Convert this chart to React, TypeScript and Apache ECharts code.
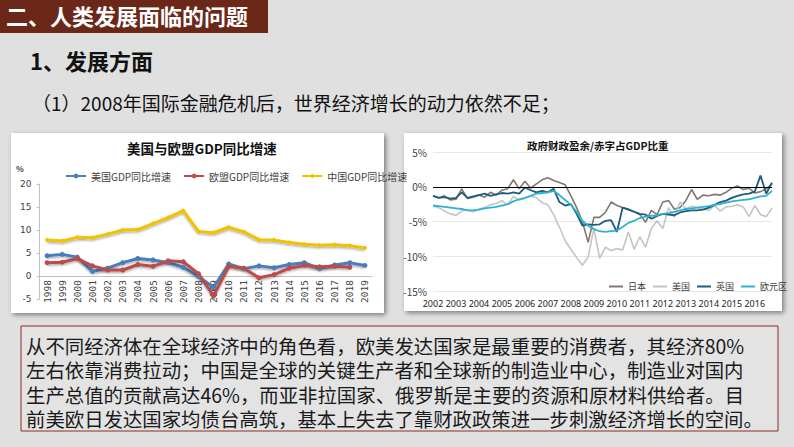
import React, { useEffect, useRef } from "react";
import * as echarts from "echarts";

// ---------- Left chart: 美国与欧盟GDP同比增速 ----------
const gdpYears = ["1998","1999","2000","2001","2002","2003","2004","2005","2006","2007","2008","2009","2010","2011","2012","2013","2014","2015","2016","2017","2018","2019"];
const usGdp = [4.4, 4.7, 4.1, 1.0, 1.7, 2.9, 3.8, 3.5, 2.9, 1.9, -0.1, -2.5, 2.6, 1.6, 2.2, 1.8, 2.5, 2.9, 1.6, 2.4, 2.9, 2.3];
const euGdp: (number | string)[] = [2.9, 3.0, 3.8, 2.2, 1.3, 1.3, 2.5, 2.1, 3.3, 3.1, 0.5, -4.3, 2.1, 1.7, -0.4, 0.3, 1.7, 2.3, 2.0, 2.1, 1.9, "-"];
const cnGdp = [7.8, 7.6, 8.4, 8.3, 9.1, 10.0, 10.1, 11.4, 12.7, 14.2, 9.7, 9.4, 10.6, 9.6, 7.9, 7.8, 7.3, 6.9, 6.7, 6.8, 6.6, 6.1];
const gdpTicks = [-5, 0, 5, 10, 15, 20];

// ---------- Right chart: 政府财政盈余/赤字占GDP比重 (quarterly, from 2002Q1) ----------
const fiscalStartYear = 2002;
const fiscalYearTicks = ["2002","2003","2004","2005","2006","2007","2008","2009","2010","2011","2012","2013","2014","2015","2016"];
const japanBal = [
  -1.3, -1.6, -1.3, -1.9,
  -1.8, -0.3, -1.7, -1.5,
  -1.2, -1.5, -0.8, -1.2,
  -0.5, -0.3, 1.0, -0.3,
  0.8, -0.2, 0.4, 1.0,
  1.3, 0.9, 0.6, 0.3,
  -1.3, -3.0, -5.0, -8.0,
  -4.4, -4.4, -3.7, -2.2,
  -2.7, -3.0, -3.2, -3.6,
  -4.0, -5.1, -3.4, -4.0,
  -2.2, -2.0, -3.2, -3.0,
  -2.0, -0.4, -1.8, -1.2,
  -1.3, -1.1, -1.2, -0.8,
  -0.2, 0.1, -0.4, -0.2,
  -0.9, -0.7, -0.3, 0.4,
];
const usBal = [
  -2.8, -3.0, -3.5, -3.9,
  -4.1, -3.5, -3.3, -3.6,
  -3.2, -3.0, -2.6, -2.4,
  -2.0, -2.6, -1.4, -1.9,
  -1.7, -1.3, -1.6, -2.3,
  -2.6, -4.0, -5.8, -7.8,
  -9.0, -10.2, -11.3, -10.1,
  -6.0, -10.3, -8.7, -9.2,
  -8.9, -9.1, -6.5, -9.0,
  -7.2, -8.7, -6.0, -4.9,
  -6.0, -3.0, -4.4, -2.2,
  -3.2, -2.8, -3.0, -3.2,
  -3.4, -2.7, -3.5, -2.9,
  -2.8, -2.6, -2.9, -4.3,
  -2.7, -4.0, -4.3, -3.1,
];
const ukBal = [
  -1.3, -1.6, -1.5, -1.7,
  -1.6, -0.8, -1.6, -1.4,
  -1.2, -1.0, -1.3, -1.1,
  -0.9, -1.0, -0.8, -1.0,
  -0.1, -0.5, -0.8, -0.6,
  -0.8, -0.3, -2.2, -2.7,
  -2.5, -3.9, -5.6, -5.4,
  -5.5, -5.4, -4.9, -4.8,
  -6.5, -3.0, -3.3, -3.6,
  -3.9, -4.0, -4.6, -4.2,
  -3.9, -4.0, -4.1, -3.7,
  -3.5, -3.4, -3.4, -3.3,
  -3.0, -2.6, -2.2, -2.0,
  -1.6, -1.3, -1.1, -1.0,
  -0.7, 1.6, -1.0, 0.6,
];
const euroBal = [
  -2.7, -2.8, -2.9, -3.0,
  -3.1, -3.2, -3.4, -3.4,
  -3.3, -3.1, -3.0, -2.9,
  -2.7, -2.5, -2.1, -1.8,
  -1.6, -1.3, -1.0, -0.9,
  -0.8, -0.6, -1.2, -1.9,
  -2.6, -3.6, -4.9, -5.6,
  -6.1, -6.4, -6.5, -6.4,
  -6.3, -5.8, -5.2, -4.9,
  -4.5, -4.3, -4.2, -4.1,
  -3.9, -3.8, -3.6, -3.4,
  -3.2, -3.1, -3.0, -2.9,
  -2.8, -2.6, -2.5, -2.3,
  -2.1, -2.0, -1.9, -1.8,
  -1.6, -1.4, -1.3, -0.6,
];
const fiscalTicks = [-15, -10, -5, 0, 5];

// ---------- Slide texts ----------
const headerText = "二、人类发展面临的问题";
const subTitle = "1、发展方面";
const pointText = "（1）2008年国际金融危机后，世界经济增长的动力依然不足；";
const bodyLines = [
  "从不同经济体在全球经济中的角色看，欧美发达国家是最重要的消费者，其经济80%",
  "左右依靠消费拉动；中国是全球的关键生产者和全球新的制造业中心，制造业对国内",
  "生产总值的贡献高达46%，而亚非拉国家、俄罗斯是主要的资源和原材料供给者。目",
  "前美欧日发达国家均债台高筑，基本上失去了靠财政政策进一步刺激经济增长的空间。",
];

const CJK = "'Noto Sans CJK SC', 'Noto Sans', sans-serif";

export default function App() {
  const ref = useRef<HTMLDivElement>(null);
  useEffect(() => {
    if (!ref.current) return;
    const chart = echarts.init(ref.current, undefined, { renderer: "svg" });
    const toXY = (arr: number[]) => arr.map((v, i) => [fiscalStartYear + i / 4, v]);
    const gdpLine = (name: string, data: any[], color: string, symbol: string) => ({
      name,
      type: "line",
      xAxisIndex: 0,
      yAxisIndex: 0,
      data,
      symbol,
      symbolSize: 5,
      itemStyle: { color },
      lineStyle: { color, width: 3, shadowColor: "rgba(0,0,0,0.35)", shadowBlur: 2, shadowOffsetY: 1.5 },
      z: 3,
    });
    const fiscalLine = (name: string, data: number[], color: string, width: number) => ({
      name,
      type: "line",
      xAxisIndex: 1,
      yAxisIndex: 1,
      data: toXY(data),
      showSymbol: false,
      symbol: "none",
      itemStyle: { color },
      lineStyle: { color, width },
      z: 3,
    });
    const bodyGraphics = bodyLines.map((t, i) => ({
      type: "text",
      left: 26,
      top: 334 + i * 24.5,
      z: 5,
      style: { text: t, fill: "#1a1a1a", font: `19.4px ${CJK}`, lineHeight: 22 },
    }));
    chart.setOption({
      animation: false,
      backgroundColor: "#e0e0e0",
      graphic: [
        { type: "rect", shape: { x: 0, y: 0, width: 268, height: 33 }, style: { fill: "#6b2717" }, z: -5 },
        { type: "text", left: 6, top: 4, style: { text: headerText, fill: "#ffffff", font: `bold 22px ${CJK}` }, z: 5 },
        { type: "text", left: 30, top: 49, style: { text: subTitle, fill: "#111111", font: `bold 22px ${CJK}` }, z: 5 },
        { type: "text", left: 32, top: 93, style: { text: pointText, fill: "#111111", font: `19px ${CJK}` }, z: 5 },
        // chart cards
        { type: "rect", shape: { x: 11, y: 133, width: 373, height: 180 }, style: { fill: "#ffffff", shadowColor: "rgba(0,0,0,0.45)", shadowBlur: 5, shadowOffsetX: 2, shadowOffsetY: 2 }, z: -5 },
        { type: "rect", shape: { x: 404, y: 133, width: 378, height: 178 }, style: { fill: "#ffffff", shadowColor: "rgba(0,0,0,0.45)", shadowBlur: 5, shadowOffsetX: 2, shadowOffsetY: 2 }, z: -5 },
        // chart titles
        { type: "text", left: 127, top: 141, style: { text: "美国与欧盟GDP同比增速", fill: "#111111", font: `bold 13.5px ${CJK}` }, z: 5 },
        { type: "text", left: 16, top: 164, style: { text: "%", fill: "#404040", font: `bold 8px ${CJK}` }, z: 5 },
        { type: "text", left: 527, top: 140, style: { text: "政府财政盈余/赤字占GDP比重", fill: "#111111", font: `bold 10.5px ${CJK}` }, z: 5 },
        // bottom text box
        { type: "rect", shape: { x: 21, y: 326, width: 757, height: 105 }, style: { fill: "#e3e3e3", stroke: "#8a2e26", lineWidth: 1 }, z: -5 },
        ...bodyGraphics,
      ],
      legend: [
        {
          data: ["美国GDP同比增速", "欧盟GDP同比增速", "中国GDP同比增速"],
          left: 60,
          top: 166,
          itemWidth: 20,
          itemHeight: 6,
          itemGap: 12,
          textStyle: { fontSize: 10, color: "#404040", fontFamily: CJK },
        },
        {
          data: ["日本", "美国", "英国", "欧元区"],
          left: 604,
          top: 277,
          width: 186,
          itemWidth: 14,
          itemHeight: 2,
          itemGap: 7,
          icon: "rect",
          textStyle: { fontSize: 9, color: "#404040", fontFamily: CJK },
        },
      ],
      grid: [
        { left: 39.5, right: 421.5, top: 184, bottom: 148 },
        { left: 433, right: 22, top: 152, bottom: 156 },
      ],
      xAxis: [
        {
          type: "category",
          gridIndex: 0,
          data: gdpYears,
          boundaryGap: true,
          axisLine: { show: false, onZero: false },
          axisTick: { show: false },
          axisLabel: { rotate: 90, fontSize: 9.5, color: "#404040", margin: -19, interval: 0, fontFamily: "'DejaVu Sans Mono', monospace" },
        },
        {
          type: "value",
          gridIndex: 1,
          min: fiscalStartYear,
          max: fiscalStartYear + 59 / 4,
          interval: 1,
          axisLine: { show: false, onZero: false },
          axisTick: { show: false },
          splitLine: { show: false },
          axisLabel: {
            fontSize: 9,
            color: "#222222",
            margin: 8,
            fontFamily: "'Noto Sans', sans-serif",
            formatter: (v: number) => (fiscalYearTicks.includes(String(Math.round(v))) && Math.abs(v - Math.round(v)) < 1e-6 ? String(Math.round(v)) : ""),
          },
        },
      ],
      yAxis: [
        {
          type: "value",
          gridIndex: 0,
          min: gdpTicks[0],
          max: gdpTicks[gdpTicks.length - 1],
          interval: 5,
          axisLine: { show: true, lineStyle: { color: "#bfbfbf" } },
          axisTick: { show: true, length: 3, lineStyle: { color: "#bfbfbf" } },
          splitLine: { show: false },
          axisLabel: { fontSize: 9, color: "#404040", margin: 8, fontFamily: "'DejaVu Sans', sans-serif" },
        },
        {
          type: "value",
          gridIndex: 1,
          min: fiscalTicks[0],
          max: fiscalTicks[fiscalTicks.length - 1],
          interval: 5,
          axisLine: { show: false },
          axisTick: { show: false },
          splitLine: { show: true, lineStyle: { color: "#e6e6e6", width: 1 } },
          axisLabel: { fontSize: 10, color: "#404040", margin: 6, fontFamily: CJK, formatter: (v: number) => `${v}%` },
        },
      ],
      series: [
        {
          ...gdpLine("美国GDP同比增速", usGdp, "#4a7ebb", "circle"),
          markLine: {
            silent: true,
            symbol: "none",
            label: { show: false },
            lineStyle: { color: "#bfbfbf", width: 1, type: "solid" },
            data: [{ yAxis: 0 }],
            z: 1,
          },
        },
        gdpLine("欧盟GDP同比增速", euGdp, "#be4b48", "circle"),
        gdpLine("中国GDP同比增速", cnGdp, "#f2c200", "diamond"),
        {
          ...fiscalLine("日本", japanBal, "#857670", 1.6),
          markLine: {
            silent: true,
            symbol: "none",
            label: { show: false },
            lineStyle: { color: "#000000", width: 1.2, type: "solid" },
            data: [{ yAxis: 0 }],
          },
        },
        fiscalLine("美国", usBal, "#c4c4c4", 1.6),
        fiscalLine("英国", ukBal, "#1e5c7c", 1.8),
        fiscalLine("欧元区", euroBal, "#2db3cf", 1.8),
      ],
    });
    return () => chart.dispose();
  }, []);
  return <div ref={ref} style={{ position: "fixed", left: 0, top: 0, width: 794, height: 447 }} />;
}
